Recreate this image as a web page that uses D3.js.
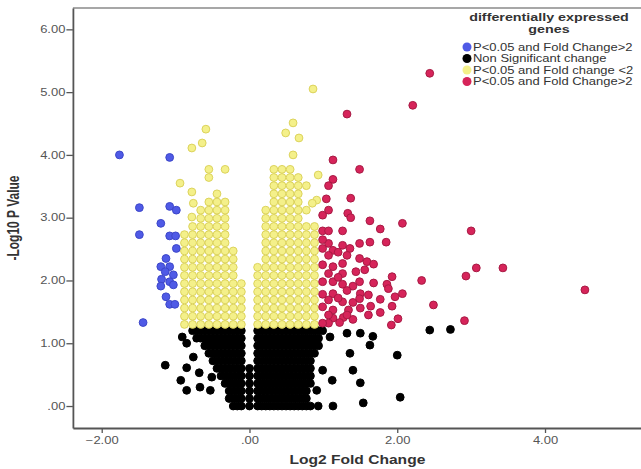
<!DOCTYPE html>
<html>
<head>
<meta charset="utf-8">
<script src="https://cdn.jsdelivr.net/npm/d3@7"></script>
<style>
  body { margin: 0; background: #fff; }
  svg { display: block; font-family: "Liberation Sans", Arial, sans-serif; }
</style>
</head>
<body>
<div id="chart"></div>
<script>
// Axis ticks and legend text
const xTicks = [-2, 0, 2, 4];
const yTicks = [0, 1, 2, 3, 4, 5, 6];
const legendTitle = ["differentially expressed", "genes"];
const legendItems = [
  "P<0.05 and Fold Change>2",
  "Non Significant change",
  "P<0.05 and Fold change <2",
  "P<0.05 and Fold Change>2"
];

// Scattered genes, [log2 fold change, -log10 p]
const blueGenes = [
  [-1.76, 4.00], [-1.08, 3.96], [-1.49, 3.16], [-1.08, 3.18], [-0.99, 3.12],
  [-1.20, 2.91], [-1.49, 2.73], [-1.08, 2.71], [-1.00, 2.71], [-0.99, 2.51],
  [-1.13, 2.35], [-1.20, 2.22], [-1.08, 2.22], [-1.14, 2.14], [-1.03, 2.09],
  [-1.19, 2.02], [-1.08, 1.98], [-1.20, 1.91], [-1.03, 1.93], [-1.13, 1.74],
  [-1.08, 1.62], [-1.01, 1.62], [-1.44, 1.33]
];

const redGenes = [
  [2.44, 5.30], [2.21, 4.79], [1.32, 4.65], [1.13, 3.92], [1.49, 3.77],
  [1.13, 3.61], [1.07, 3.51], [1.37, 3.31], [1.07, 3.12], [0.99, 3.04],
  [1.33, 3.07], [1.37, 3.00], [1.63, 2.95], [2.07, 2.91], [1.77, 2.82],
  [0.99, 2.79], [1.07, 2.79], [1.26, 2.79], [3.00, 2.79], [1.49, 2.59],
  [1.63, 2.61], [1.85, 2.61], [1.07, 2.59], [1.26, 2.56], [1.36, 2.51],
  [0.99, 2.51], [1.13, 2.48], [1.49, 2.35], [1.59, 2.30], [1.68, 2.26],
  [1.13, 2.22], [1.26, 2.27], [3.07, 2.20], [3.43, 2.20], [1.07, 2.11],
  [1.26, 2.11], [1.44, 2.14], [1.56, 2.17], [1.93, 2.06], [2.93, 2.07],
  [0.99, 1.98], [1.13, 1.98], [1.26, 1.94], [1.40, 1.91], [1.49, 1.98],
  [1.68, 1.96], [1.86, 1.94], [2.33, 2.00], [4.54, 1.85], [1.13, 1.79],
  [1.32, 1.84], [1.50, 1.79], [1.61, 1.77], [1.77, 1.70], [1.88, 1.87],
  [1.97, 1.74], [2.07, 1.79], [1.07, 1.69], [1.26, 1.66], [1.40, 1.65],
  [1.49, 1.71], [0.99, 1.58], [1.13, 1.53], [1.34, 1.53], [1.50, 1.56],
  [1.64, 1.59], [1.93, 1.59], [2.49, 1.61], [1.77, 1.49], [1.61, 1.45],
  [1.13, 1.40], [1.27, 1.41], [1.40, 1.38], [2.01, 1.39], [1.92, 1.29],
  [2.91, 1.36], [1.07, 1.32], [1.22, 1.33], [0.99, 1.32], [0.99, 2.25],
  [0.99, 2.65], [1.07, 2.40], [0.99, 1.78], [1.07, 1.45], [1.20, 2.45],
  [1.20, 1.72], [1.32, 2.40], [1.20, 2.05], [1.32, 1.45], [1.04, 3.30]
];

const yellowOutliers = [
  [-0.59, 4.41], [-0.64, 4.19], [-0.78, 4.11], [-0.94, 3.55], [-0.78, 3.41],
  [-0.76, 3.23], [-0.78, 3.01], [0.86, 5.05], [0.59, 4.51], [0.49, 4.35],
  [0.67, 4.27], [0.59, 4.00], [0.93, 3.68], [0.91, 3.28], [0.85, 3.23]
];

const blackOutliers = [
  [-1.14, 0.65], [-0.91, 1.10], [-0.85, 1.00], [-0.85, 0.61], [-0.93, 0.41],
  [-0.85, 0.25], [-0.68, 0.53], [-0.67, 0.30], [-0.53, 0.25], [-0.51, 0.46],
  [-0.76, 0.78], [2.00, 0.81], [2.04, 0.14], [1.50, 0.37], [1.54, 0.05],
  [1.13, 0.00], [0.93, 0.00], [1.36, 0.84], [1.40, 0.57], [1.63, 0.97],
  [1.50, 1.16], [1.32, 1.16], [1.09, 1.10], [0.91, 0.25], [1.12, 0.41],
  [0.99, 0.57], [2.44, 1.21], [2.72, 1.22], [1.67, 1.11]
];

// The dense cores sit on a lattice: column positions, row levels, occupied cells
const yellowColsX = [-0.88, -0.77, -0.66, -0.55, -0.44, -0.33, -0.22, -0.11, 0,
  0.11, 0.22, 0.33, 0.44, 0.55, 0.66, 0.77, 0.88];
const yellowRowsY = [3.77, 3.64, 3.51, 3.38, 3.25, 3.12, 2.99, 2.86, 2.73, 2.60,
  2.47, 2.34, 2.21, 2.08, 1.95, 1.82, 1.69, 1.56, 1.43, 1.30];
const yellowGrid = [
  "...x.x.....xxx...",
  "...x.......xxxx..",
  "...........xxxxx.",
  "....x......xxxx..",
  "...xxx.....xxxx..",
  "..xxxx....xxxxxx.",
  "..xxxx....xxxxx..",
  ".xxxxx....xxxxxxx",
  "xxxxxx....xxxxxxx",
  "xxxxxx....xxxxxxx",
  "xxxxxxx...xxxxxxx",
  "xxxxxxx...xxxxxxx",
  "xxxxxxx..xxxxxxxx",
  "xxxxxxx..xxxxxxxx",
  "xxxxxxxx.xxxxxxxx",
  "xxxxxxxx.xxxxxxxx",
  "xxxxxxxx.xxxxxxxx",
  "xxxxxxxx.xxxxxxxx",
  "xxxxxxxx.xxxxxxxx",
  "xxxxxxxx.xxxxxxxx"
];

const blackColsX = [-0.88, -0.825, -0.77, -0.715, -0.66, -0.605, -0.55, -0.495,
  -0.44, -0.385, -0.33, -0.275, -0.22, -0.165, -0.11, -0.055, 0, 0.055, 0.11,
  0.165, 0.22, 0.275, 0.33, 0.385, 0.44, 0.495, 0.55, 0.605, 0.66, 0.715, 0.77,
  0.825, 0.88, 0.935, 0.99, 1.045, 1.10, 1.155, 1.21];
const blackRowsY = [1.20, 1.08, 0.96, 0.84, 0.72, 0.60, 0.48, 0.36, 0.24, 0.12, 0.00];
const blackGrid = [
  "..xxxxxxxxxxxxx...xxxxxxxxxxxxxxxxx....",
  "...xxxxxxxxxxxx...xxxxxxxxxxxxxxxx.....",
  ".....xxxxxxxxxx...xxxxxxxxxxxxxxxx.....",
  "......xxxxxxxxx...xxxxxxxxxxxxxxx......",
  ".......xxxxxxxx...xxxxxxxxxxxxxx.......",
  "........xxxxxxx.x.xxxxxxxxxxxxxx.......",
  ".........xxxxxx.x.xxxxxxxxxxxxxx.......",
  "..........xxxxx.x.xxxxxxxxxxxxxx.......",
  "...........xxxx.x.xxxxxxxxxxxxx........",
  "...........xxxx.x.xxxxxxxxxxxxx........",
  "............xxx.x.xxxxxxxxxxxxxx......."
];

const width = 641;
const height = 469;

const svg = d3.select("#chart")
  .append("svg")
  .attr("width", width)
  .attr("height", height);

// Scales
const xScale = d3.scaleLinear().domain([-2.39, 5.31]).range([72.9, 641.8]);
const yScale = d3.scaleLinear().domain([-0.35, 6.34]).range([428, 8]);

const fmt = (v) => d3.format(".2f")(v).replace(/^(-?)0\./, "$1.");

// lattice strings -> points
const fromGrid = (grid, colsX, rowsY) => {
  const pts = [];
  grid.forEach((row, r) => {
    row.split("").forEach((ch, c) => {
      if (ch === "x") pts.push([colsX[c], rowsY[r]]);
    });
  });
  return pts;
};

const blackGenes = fromGrid(blackGrid, blackColsX, blackRowsY).concat(blackOutliers);
const yellowGenes = fromGrid(yellowGrid, yellowColsX, yellowRowsY).concat(yellowOutliers);

const groups = [
  { data: blackGenes, fill: "#000000", stroke: "#000000" },
  { data: yellowGenes, fill: "#f4f08a", stroke: "#dcd35c" },
  { data: blueGenes, fill: "#4f5ae6", stroke: "#3d47c9" },
  { data: redGenes, fill: "#d6245a", stroke: "#a81a44" }
];

groups.forEach((g) => {
  svg.append("g")
    .selectAll("circle")
    .data(g.data)
    .join("circle")
    .attr("cx", (d) => xScale(d[0]))
    .attr("cy", (d) => yScale(d[1]))
    .attr("r", 3.9)
    .attr("fill", g.fill)
    .attr("stroke", g.stroke)
    .attr("stroke-width", 1);
});

// Frame top line
svg.append("line")
  .attr("x1", xScale.range()[0])
  .attr("x2", xScale.range()[1])
  .attr("y1", yScale.range()[1])
  .attr("y2", yScale.range()[1])
  .attr("stroke", "#8a8a8a")
  .attr("stroke-width", 1.5);

// Axes
const xAxis = svg.append("g")
  .attr("transform", `translate(0,${yScale.range()[0]})`)
  .call(d3.axisBottom(xScale).tickValues(xTicks).tickFormat(fmt).tickSize(5).tickSizeOuter(0));

const yAxis = svg.append("g")
  .attr("transform", `translate(${xScale.range()[0]},0)`)
  .call(d3.axisLeft(yScale).tickValues(yTicks).tickFormat(fmt).tickSize(6.5).tickSizeOuter(0));

[xAxis, yAxis].forEach((a) => {
  a.attr("font-family", null).attr("font-size", null);
  a.select(".domain").attr("stroke", "#555").attr("stroke-width", 1.8);
  a.selectAll(".tick line").attr("stroke", "#555").attr("stroke-width", 1.3);
  a.selectAll(".tick text").attr("fill", "#555").style("font-size", "10px");
});

xAxis.selectAll(".tick text")
  .attr("y", 0)
  .attr("dy", null)
  .attr("transform", "translate(0,15.5) scale(1.3,1)");

yAxis.selectAll(".tick text")
  .attr("x", 0)
  .attr("transform", "translate(-7.5,0) scale(1.3,1)");

// Axis titles
svg.append("text")
  .attr("transform", `translate(${(xScale.range()[0] + xScale.range()[1]) / 2},464) scale(1.3,1)`)
  .attr("text-anchor", "middle")
  .style("font-size", "12px")
  .style("font-weight", "bold")
  .attr("fill", "#333")
  .text("Log2 Fold Change");

svg.append("text")
  .attr("transform", `translate(18.5,${(yScale.range()[0] + yScale.range()[1]) / 2}) scale(1.3,1) rotate(-90)`)
  .attr("text-anchor", "middle")
  .style("font-size", "12px")
  .style("font-weight", "bold")
  .attr("fill", "#333")
  .text("-Log10 P Value");

// Legend
const legend = svg.append("g");
legendTitle.forEach((t, i) => {
  legend.append("text")
    .attr("transform", `translate(549,${21 + i * 12}) scale(1.3,1)`)
    .attr("text-anchor", "middle")
    .style("font-size", "11px")
    .style("font-weight", "bold")
    .attr("fill", "#333")
    .text(t);
});

const legendColors = ["#4f5ae6", "#000000", "#f4f08a", "#d6245a"];
legendItems.forEach((t, i) => {
  const yy = 47 + i * 11.5;
  legend.append("circle")
    .attr("cx", 467)
    .attr("cy", yy)
    .attr("r", 4.5)
    .attr("fill", legendColors[i]);
  legend.append("text")
    .attr("transform", `translate(473,${yy + 3.5}) scale(1.3,1)`)
    .style("font-size", "10px")
    .attr("fill", "#333")
    .text(t);
});
</script>
</body>
</html>
